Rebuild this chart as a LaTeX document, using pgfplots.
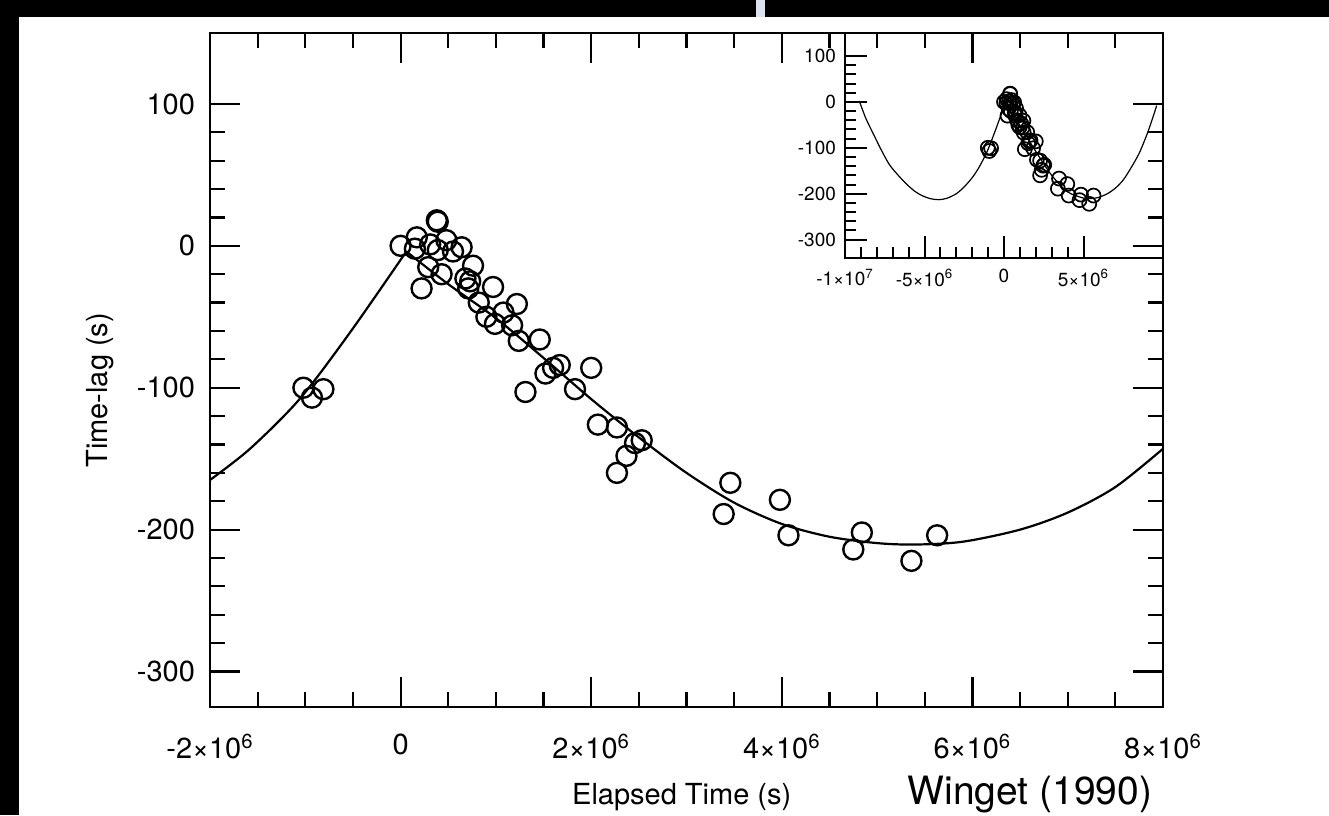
\documentclass[border=0pt]{standalone}
\usepackage{pgfplots}
\pgfplotsset{compat=1.18}
\usepackage{pgfplotstable}
\usepackage{fontspec}
\setmainfont{TeX Gyre Heros}
\definecolor{gapc}{HTML}{DDE3EE}

\pgfplotstableread{
x y
-1.02e6 -100
-0.93e6 -107
-0.81e6 -101
0 0
0.15e6 -2
0.17e6 6
0.38e6 18
0.39e6 17
0.22e6 -30
0.29e6 -15
0.31e6 1
0.43e6 -20
0.39e6 -3
0.48e6 4
0.55e6 -4
0.64e6 -1
0.68e6 -23
0.71e6 -30
0.73e6 -25
0.76e6 -14
0.82e6 -40
0.90e6 -50
0.97e6 -29
0.99e6 -55
1.08e6 -47
1.17e6 -56
1.22e6 -41
1.24e6 -67
1.46e6 -66
1.31e6 -103
1.52e6 -90
1.60e6 -86
1.67e6 -84
1.83e6 -101
2.00e6 -86
2.07e6 -126
2.27e6 -128
2.37e6 -148
2.46e6 -139
2.53e6 -137
2.27e6 -160
3.46e6 -167
3.39e6 -189
3.98e6 -179
4.07e6 -204
4.84e6 -202
4.75e6 -214
5.36e6 -222
5.63e6 -204
}\datatable

\pgfplotstableread{
x y
-2.0e6 -165
-1.58e6 -143
-1.06e6 -108
-0.53e6 -61
0.06e6 -4
}\curveL

\pgfplotstableread{
x y
0.06e6 -4
0.5e6 -27
1.0e6 -51
1.5e6 -79
2.0e6 -108
2.5e6 -135
3.0e6 -160
3.5e6 -181
4.0e6 -196
4.5e6 -205
5.0e6 -209.5
5.4e6 -210.5
5.9e6 -208.5
6.5e6 -200
7.0e6 -188
7.5e6 -170
8.0e6 -143
}\curveR

\pgfplotstableread{
x y
-9.1e6 2
-8.7e6 -35
-8.2e6 -71
-7.7e6 -106
-7.2e6 -137
-6.6e6 -162
-6.1e6 -180
-5.6e6 -195
-5.1e6 -205
-4.6e6 -211
-4.1e6 -213
-3.6e6 -210
-3.0e6 -200
-2.5e6 -185
-2.0e6 -165
-1.58e6 -143
-1.06e6 -108
-0.53e6 -61
0.06e6 -4
}\insetL

\pgfplotstableread{
x y
0.06e6 -4
1.0e6 -51
2.0e6 -108
3.0e6 -160
4.0e6 -196
5.0e6 -209.5
5.4e6 -210.5
5.9e6 -208.5
6.5e6 -200
7.0e6 -188
7.5e6 -170
8.0e6 -143
8.5e6 -112
9.0e6 -70
9.4e6 -30
9.6e6 -8
}\insetR

\begin{document}
\begin{tikzpicture}[x=1pt,y=1pt]
\useasboundingbox (0,0) rectangle (664.5,407.5);
\fill[white] (0,0) rectangle (664.5,407.5);
\fill[black] (0,0) rectangle (9.5,407.5);
\fill[black] (0,399) rectangle (664.5,407.5);
\fill[gapc] (378,399) rectangle (382.5,407.5);

\begin{axis}[
  at={(105pt,54pt)}, anchor=south west,
  scale only axis, width=476.5pt, height=337pt,
  xmin=-2e6, xmax=8e6, ymin=-325, ymax=150,
  xtick={-2e6,0,2e6,4e6,6e6,8e6},
  xticklabels={-2×10\textsuperscript{6},0,2×10\textsuperscript{6},4×10\textsuperscript{6},6×10\textsuperscript{6},8×10\textsuperscript{6}},
  ytick={-300,-200,-100,0,100},
  yticklabels={-300,-200,-100,0,100},
  minor x tick num=3, minor y tick num=4,
  scaled x ticks=false,
  tick align=inside,
  major tick length=15pt, minor tick length=7.5pt,
  every tick/.style={black, line width=1.1pt},
  axis line style={line width=1.2pt},
  /pgf/number format/assume math mode=true,
  ticklabel style={font=\fontsize{14.5}{16}\selectfont},
  xticklabel style={yshift=-10pt},
  yticklabel style={xshift=-4pt},
  xlabel={Elapsed Time (s)},
  ylabel={Time-lag (s)},
  label style={font=\fontsize{14.5}{16}\selectfont},
  xlabel style={at={(axis description cs:0.495,-0.133)}, anchor=center},
  ylabel style={at={(axis description cs:-0.115,0.47)}, anchor=center},
  clip=true,
]
\addplot[black, line width=1.1pt, smooth, tension=0.5] table[x=x,y=y] {\curveL};
\addplot[black, line width=1.1pt, smooth, tension=0.5] table[x=x,y=y] {\curveR};
\addplot[only marks, mark=o, mark size=5pt, mark options={line width=1.2pt, black}] table[x=x,y=y] {\datatable};
\end{axis}

\begin{axis}[
  at={(422.5pt,278.5pt)}, anchor=south west,
  scale only axis, width=159pt, height=112.5pt,
  xmin=-1e7, xmax=1e7, ymin=-340, ymax=150,
  xtick={-1e7,-5e6,0,5e6},
  xticklabels={-1×10\textsuperscript{7},-5×10\textsuperscript{6},0,5×10\textsuperscript{6}},
  ytick={-300,-200,-100,0,100},
  yticklabels={-300,-200,-100,0,100},
  minor x tick num=4, minor y tick num=4,
  xtick pos=left, ytick pos=left,
  scaled x ticks=false,
  tick align=inside,
  major tick length=11pt, minor tick length=5.5pt,
  every tick/.style={black, line width=1pt},
  axis line style={line width=0.9pt},
  /pgf/number format/assume math mode=true,
  ticklabel style={font=\fontsize{9.5}{11}\selectfont},
  xticklabel style={yshift=-2pt},
  yticklabel style={xshift=-1pt},
  clip=true,
]
\addplot[black, line width=0.6pt, smooth, tension=0.5] table[x=x,y=y] {\insetL};
\addplot[black, line width=0.6pt, smooth, tension=0.5] table[x=x,y=y] {\insetR};
\addplot[only marks, mark=o, mark size=3.5pt, mark options={line width=0.85pt, black}] table[x=x,y=y] {\datatable};
\end{axis}

\node[anchor=center, font=\fontsize{19.5}{22}\selectfont] at (515,10) {Winget (1990)};
\end{tikzpicture}
\end{document}
